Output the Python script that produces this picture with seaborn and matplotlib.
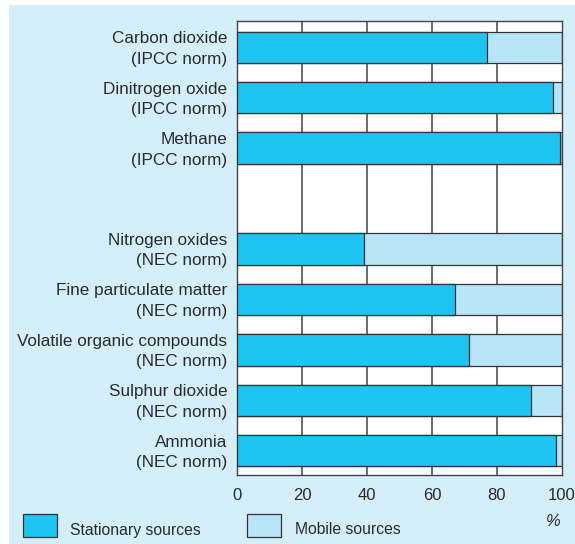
import matplotlib
matplotlib.use("Agg")
import matplotlib.pyplot as plt
import matplotlib.patches as mpatches
import matplotlib.transforms as mtransforms
import seaborn as sns
import pandas as pd
import numpy as np

categories = [
    "Carbon dioxide\n(IPCC norm)",
    "Dinitrogen oxide\n(IPCC norm)",
    "Methane\n(IPCC norm)",
    " ",
    "Nitrogen oxides\n(NEC norm)",
    "Fine particulate matter\n(NEC norm)",
    "Volatile organic compounds\n(NEC norm)",
    "Sulphur dioxide\n(NEC norm)",
    "Ammonia\n(NEC norm)",
]
stationary = [77, 97.1, 99.5, np.nan, 39.2, 67, 71.5, 90.6, 98.3]
mobile = [23, 2.9, 0.5, np.nan, 60.8, 33, 28.5, 9.4, 1.7]
xticks = [0, 20, 40, 60, 80, 100]

sns.set_theme(style="white")
plt.rcParams["font.family"] = ["Liberation Sans", "DejaVu Sans"]

C_STAT = "#1ec4f2"
C_MOB = "#b8e4f8"
C_BG = "#d4eefa"
C_TXT = "#2b2b2b"
C_EDGE = "#333333"

df = pd.DataFrame({"cat": categories, "stat": stationary, "mob": mobile})
df["total"] = df["stat"] + df["mob"]

fig = plt.figure(figsize=(5.75, 5.44), dpi=100)
fig.patch.set_facecolor("white")
fig.patches.append(mpatches.Rectangle((9 / 575, 0), 1 - 9 / 575, 539 / 544,
                                      transform=fig.transFigure, facecolor=C_BG,
                                      edgecolor="none", zorder=-10))

ax = fig.add_axes([237 / 575, 1 - 475 / 544, 325 / 575, 454 / 544])
ax.set_facecolor("white")

for x in [20, 40, 60, 80]:
    ax.axvline(x, color="#444444", lw=1.1, zorder=0.5)

sns.barplot(data=df, y="cat", x="total", order=categories, orient="h",
            color=C_MOB, edgecolor=C_EDGE, linewidth=0.9, width=0.62,
            saturation=1, ax=ax, zorder=2)
sns.barplot(data=df, y="cat", x="stat", order=categories, orient="h",
            color=C_STAT, edgecolor=C_EDGE, linewidth=0.9, width=0.62,
            saturation=1, ax=ax, zorder=3)

ax.set_xlim(0, 100)
ax.set_ylim(8.48, -0.52)
ax.set_xticks(xticks)
ax.set_xticklabels([str(t) for t in xticks], fontsize=12, color=C_TXT)
ax.tick_params(axis="x", length=0, pad=9)
ax.tick_params(axis="y", length=0, pad=7)
shift = mtransforms.ScaledTranslation(0, 2.5 / 100, fig.dpi_scale_trans)
for lab in ax.get_yticklabels():
    lab.set_fontsize(12.3)
    lab.set_color(C_TXT)
    lab.set_linespacing(1.45)
    lab.set_transform(lab.get_transform() + shift)
ax.set_xlabel("")
ax.set_ylabel("")
for s in ax.spines.values():
    s.set_color("#444444")
    s.set_linewidth(1.0)

fig.text(553 / 575, 1 - 521 / 544, "%", fontsize=12, color=C_TXT,
         style="italic", ha="center", va="center")

# legend
fig.patches.append(mpatches.Rectangle((23 / 575, 1 - 537 / 544), 34 / 575, 23 / 544,
                                      transform=fig.transFigure, facecolor=C_STAT,
                                      edgecolor=C_EDGE, lw=0.9))
fig.text(70 / 575, 1 - 530 / 544, "Stationary sources", fontsize=11.3,
         color=C_TXT, ha="left", va="center")
fig.patches.append(mpatches.Rectangle((247 / 575, 1 - 537 / 544), 34 / 575, 23 / 544,
                                      transform=fig.transFigure, facecolor=C_MOB,
                                      edgecolor=C_EDGE, lw=0.9))
fig.text(295 / 575, 1 - 530 / 544, "Mobile sources", fontsize=11.3,
         color=C_TXT, ha="left", va="center")

fig.savefig("out.png", dpi=100, facecolor=fig.get_facecolor())
